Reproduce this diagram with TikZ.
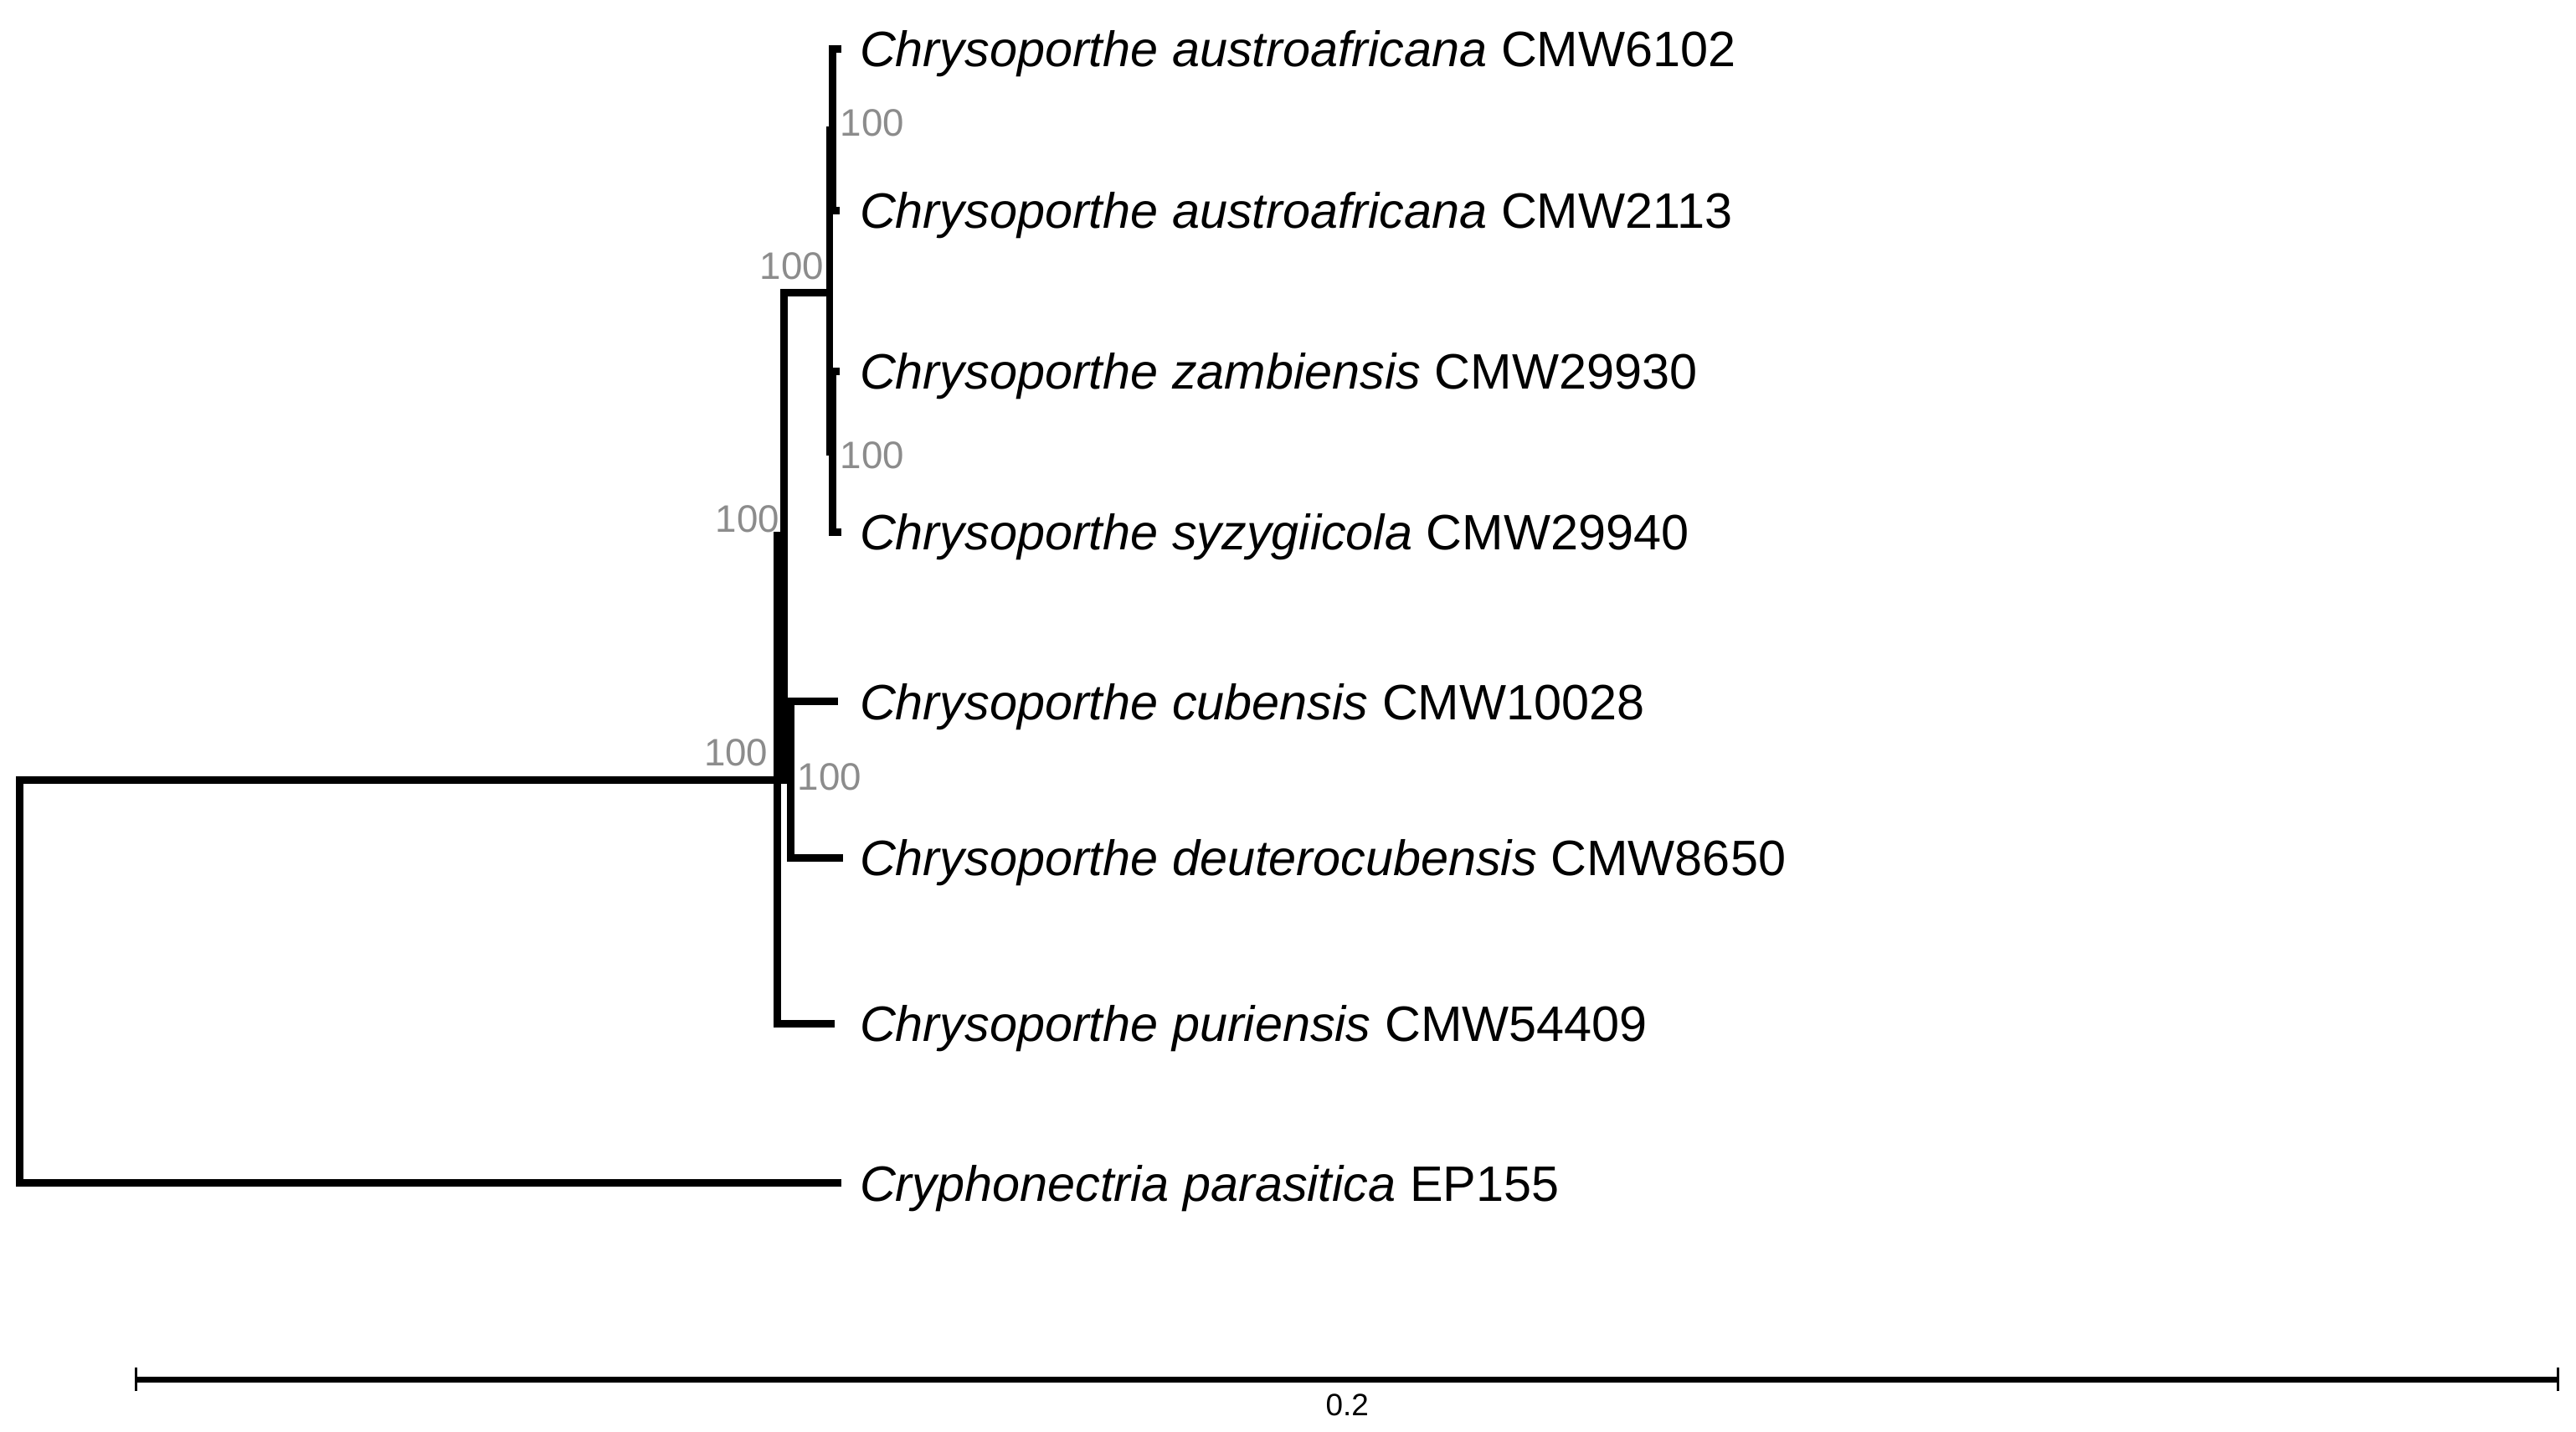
\documentclass[tikz,border=0pt]{standalone}
\usepackage{fontspec}
\setmainfont{Liberation Sans}
\usepackage{xcolor}
\usepackage{tikz}
\usetikzlibrary{positioning}
\definecolor{boot}{RGB}{140,140,140}
\tikzstyle{branch} = [line width=2.55pt, black]
\tikzstyle{taxon} = [anchor=base west, inner sep=0pt, yshift=-6pt, font=\fontsize{16.9}{20}\selectfont]
\tikzstyle{support} = [inner sep=0pt, text=boot, font=\fontsize{13}{15}\selectfont]
\tikzstyle{scalebar} = [line width=2pt, black]
\tikzstyle{tick} = [line width=0.8pt, black]

\begin{document}
\begin{tikzpicture}[x=0.019625cm, y=-0.019625cm]
\useasboundingbox (0,0) rectangle (1568,871);

% Tips
\coordinate (t1) at (512,30);
\coordinate (t2) at (511,128);
\coordinate (t3) at (511,226);
\coordinate (t4) at (512,324);
\coordinate (t5) at (510,427);
\coordinate (t6) at (513,522);
\coordinate (t7) at (508,623);
\coordinate (t8) at (512,720);

% Inner nodes
\coordinate (sub1) at (507,79);
\coordinate (sub2) at (507,275);
\coordinate (clA) at (505,178);
\coordinate (cub) at (481.5,474.5);
\coordinate (clX) at (477,326);
\coordinate (chry) at (473,474.5);
\coordinate (root) at (12,597);

% Taxa
\node (n1) [taxon] at (523,30) {\textit{Chrysoporthe austroafricana} CMW6102};
\node (n2) [taxon] at (523,128) {\textit{Chrysoporthe austroafricana} CMW2113};
\node (n3) [taxon] at (523,226) {\textit{Chrysoporthe zambiensis} CMW29930};
\node (n4) [taxon] at (523,324) {\textit{Chrysoporthe syzygiicola} CMW29940};
\node (n5) [taxon] at (523,427) {\textit{Chrysoporthe cubensis} CMW10028};
\node (n6) [taxon] at (523,522) {\textit{Chrysoporthe deuterocubensis} CMW8650};
\node (n7) [taxon] at (523,623) {\textit{Chrysoporthe puriensis} CMW54409};
\node (n8) [taxon] at (523,720) {\textit{Cryphonectria parasitica} EP155};

% Support values
\node (b1) [support] at (531,75) {100};
\node (b2) [support] at (482,162) {100};
\node (b3) [support] at (531,277) {100};
\node (b4) [support] at (455,316) {100};
\node (b5) [support] at (448,458) {100};
\node (b6) [support] at (505,473) {100};

% Branches
\draw [branch] (t1) -| (sub1) |- (t2);
\draw [branch] (t3) -| (sub2) |- (t4);
\draw [branch] (sub1) -| (clA) |- (sub2);
\draw [branch] (t5) -| (cub) |- (t6);
\draw [branch] (clA) -| (clX) |- (cub);
\draw [branch] (clX) -| (chry) |- (t7);
\draw [branch] (chry) -| (root) |- (t8);

% Scale bar
\coordinate (s0) at (83,839.5);
\coordinate (s1) at (1557,839.5);
\draw [scalebar] (s0) -- (s1);
\draw [tick] ([yshift=-0.14cm]s0) -- ([yshift=0.14cm]s0);
\draw [tick] ([yshift=-0.14cm]s1) -- ([yshift=0.14cm]s1);
\node (slabel) [inner sep=0pt, font=\fontsize{10.5}{12}\selectfont] at (820,855) {0.2};

\end{tikzpicture}
\end{document}
